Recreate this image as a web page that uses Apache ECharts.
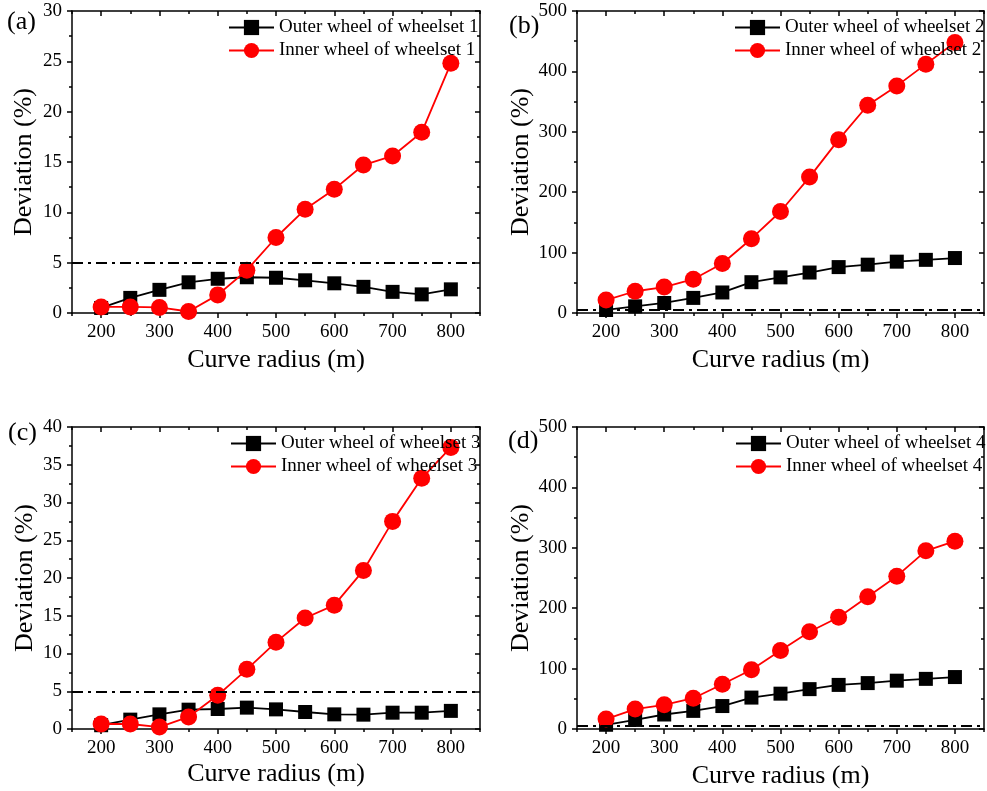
<!DOCTYPE html>
<html>
<head>
<meta charset="utf-8">
<script src="https://cdn.jsdelivr.net/npm/echarts@6/dist/echarts.min.js"></script>
<style>
  html, body { margin: 0; padding: 0; background: #fff; }
  #chart { width: 987px; height: 791px; }
</style>
</head>
<body>
<div id="chart"></div>
<script>
// Curve radius (m) for every sample point
const radii = [200, 250, 300, 350, 400, 450, 500, 550, 600, 650, 700, 750, 800];
// Labelled (major) and intermediate (minor) ticks on the radius axis
const xMajorTicks = [200, 300, 400, 500, 600, 700, 800];
const xMinorTicks = [150, 250, 350, 450, 550, 650, 750, 850];

// Deviation (%) of each wheel
const outer1 = [0.5, 1.5, 2.3, 3.05, 3.4, 3.55, 3.5, 3.25, 2.95, 2.6, 2.1, 1.85, 2.35];
const inner1 = [0.6, 0.6, 0.55, 0.15, 1.8, 4.25, 7.5, 10.3, 12.3, 14.7, 15.6, 17.95, 24.8];
const outer2 = [5, 11, 16.6, 25, 34, 51, 59, 67, 76, 80, 85, 88, 91];
const inner2 = [21.5, 36, 43, 56, 82, 123, 168, 225, 287, 344, 376, 412, 448];
const outer3 = [0.5, 1.24, 1.94, 2.56, 2.65, 2.83, 2.6, 2.25, 1.94, 1.9, 2.16, 2.16, 2.4];
const inner3 = [0.66, 0.66, 0.26, 1.6, 4.46, 7.9, 11.5, 14.7, 16.4, 21.0, 27.5, 33.2, 37.3];
const outer4 = [7, 15, 24, 30, 38, 52, 58.5, 66, 73, 76, 80, 83, 86];
const inner4 = [16.5, 33, 40, 51, 74, 98, 130, 161, 185, 219, 253, 295, 311];

// 5 % threshold line
const threshold = 5;

// Panel tags and y-axis ranges
const panelTags = ['(a)', '(b)', '(c)', '(d)'];
const yMax = [30, 500, 40, 500];
const yStep = [5, 100, 5, 100];

const FONT = '"Liberation Serif", "Times New Roman", serif';

const panels = [
  { outer: outer1, inner: inner1, set: 1,
    grid: { left: 72, top: 11, width: 408, height: 302 },
    legend: { left: 228, top: 18 }, tag: { x: 7, y: 23 }, yNameGap: 48, xNameGap: 47 },
  { outer: outer2, inner: inner2, set: 2,
    grid: { left: 577, top: 11, width: 407, height: 302 },
    legend: { left: 734, top: 18 }, tag: { x: 509, y: 27 }, yNameGap: 53, xNameGap: 47 },
  { outer: outer3, inner: inner3, set: 3,
    grid: { left: 72, top: 427, width: 408, height: 302 },
    legend: { left: 230, top: 434 }, tag: { x: 8, y: 434 }, yNameGap: 47, xNameGap: 45 },
  { outer: outer4, inner: inner4, set: 4,
    grid: { left: 577, top: 427, width: 407, height: 302 },
    legend: { left: 735, top: 434 }, tag: { x: 508, y: 442 }, yNameGap: 53, xNameGap: 47 }
];

const frameLine = { color: '#000', width: 1.5 };
const tickLine = { color: '#000', width: 1.5 };

const grids = [], xAxes = [], yAxes = [], series = [], legends = [], graphics = [];

panels.forEach((p, i) => {
  grids.push(Object.assign({ containLabel: false }, p.grid));

  const xBase = { type: 'value', gridIndex: i, min: 150, max: 850, splitLine: { show: false } };
  // bottom: labelled major ticks with axis line and name
  xAxes.push(Object.assign({}, xBase, {
    position: 'bottom',
    axisLine: { show: true, onZero: false, lineStyle: frameLine },
    axisTick: { show: true, inside: false, length: 5, customValues: xMajorTicks, lineStyle: tickLine },
    axisLabel: { show: true, customValues: xMajorTicks, margin: 10, fontSize: 19, fontFamily: FONT, color: '#000' },
    name: 'Curve radius (m)', nameLocation: 'middle', nameGap: p.xNameGap,
    nameTextStyle: { fontSize: 26, fontFamily: FONT, color: '#000', verticalAlign: 'middle' }
  }));
  // bottom: minor ticks
  xAxes.push(Object.assign({}, xBase, {
    position: 'bottom',
    axisLine: { show: false, onZero: false },
    axisTick: { show: true, inside: false, length: 3, customValues: xMinorTicks, lineStyle: tickLine },
    axisLabel: { show: false }
  }));
  // top frame: major ticks pointing in
  xAxes.push(Object.assign({}, xBase, {
    position: 'top',
    axisLine: { show: true, onZero: false, lineStyle: frameLine },
    axisTick: { show: true, inside: true, length: 5, customValues: xMajorTicks, lineStyle: tickLine },
    axisLabel: { show: false }
  }));
  // top frame: minor ticks pointing in
  xAxes.push(Object.assign({}, xBase, {
    position: 'top',
    axisLine: { show: false, onZero: false },
    axisTick: { show: true, inside: true, length: 3, customValues: xMinorTicks, lineStyle: tickLine },
    axisLabel: { show: false }
  }));

  const yBase = { type: 'value', gridIndex: i, min: 0, max: yMax[i], interval: yStep[i], splitLine: { show: false } };
  yAxes.push(Object.assign({}, yBase, {
    position: 'left',
    axisLine: { show: true, onZero: false, lineStyle: frameLine },
    axisTick: { show: true, inside: false, length: 5, lineStyle: tickLine },
    minorTick: { show: true, splitNumber: 2, length: 3, lineStyle: tickLine },
    axisLabel: { show: true, margin: 10, fontSize: 19, fontFamily: FONT, color: '#000' },
    name: 'Deviation (%)', nameLocation: 'middle', nameGap: p.yNameGap, nameRotate: 90,
    nameTextStyle: { fontSize: 26, fontFamily: FONT, color: '#000', verticalAlign: 'middle' }
  }));
  yAxes.push(Object.assign({}, yBase, {
    position: 'right',
    axisLine: { show: true, onZero: false, lineStyle: frameLine },
    axisTick: { show: true, inside: true, length: 5, lineStyle: tickLine },
    minorTick: { show: true, splitNumber: 2, length: 3, lineStyle: tickLine },
    axisLabel: { show: false }
  }));

  const outerName = 'Outer wheel of wheelset ' + p.set;
  const innerName = 'Inner wheel of wheelset ' + p.set;

  series.push({
    name: outerName, type: 'line', xAxisIndex: i * 4, yAxisIndex: i * 2,
    data: radii.map((r, k) => [r, p.outer[k]]),
    symbol: 'rect', symbolSize: 14,
    itemStyle: { color: '#000' }, lineStyle: { color: '#000', width: 1.8 },
    markLine: {
      silent: true, symbol: ['none', 'none'], label: { show: false },
      lineStyle: { color: '#000', type: [11, 5, 3, 5], width: 2 },
      data: [{ yAxis: threshold }]
    },
    z: 2
  });
  series.push({
    name: innerName, type: 'line', xAxisIndex: i * 4, yAxisIndex: i * 2,
    data: radii.map((r, k) => [r, p.inner[k]]),
    symbol: 'circle', symbolSize: 17,
    itemStyle: { color: '#ff0000' }, lineStyle: { color: '#ff0000', width: 1.8 },
    z: 3
  });

  legends.push({
    data: [outerName, innerName], orient: 'vertical',
    left: p.legend.left, top: p.legend.top,
    itemWidth: 45, itemHeight: 19, itemGap: 4, padding: 0,
    selectedMode: false,
    textStyle: { fontSize: 19, fontFamily: FONT, color: '#000' }
  });

  graphics.push({
    type: 'text', left: p.tag.x, top: p.tag.y - 14,
    style: { text: panelTags[i], font: '26px ' + FONT, fill: '#000' }
  });
});

const chart = echarts.init(document.getElementById('chart'), null, { renderer: 'canvas' });
chart.setOption({
  animation: false,
  backgroundColor: '#fff',
  grid: grids,
  xAxis: xAxes,
  yAxis: yAxes,
  legend: legends,
  series: series,
  graphic: graphics
});
</script>
</body>
</html>
